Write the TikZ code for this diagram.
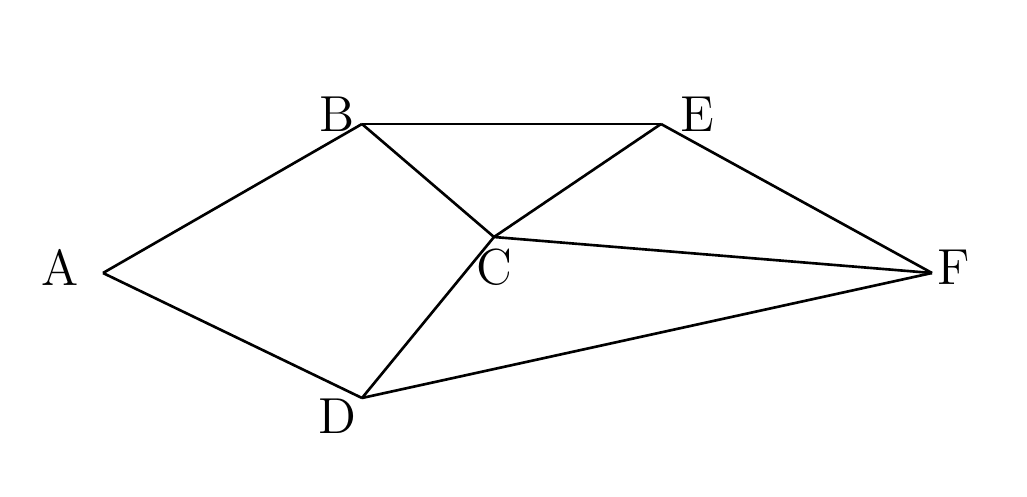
\documentclass[tikz,border=0pt]{standalone}
\begin{document}
\begin{tikzpicture}[every node/.style={font=\Large},
  edge/.style={line width=0.75pt},
  lbl/.style={inner sep=0pt}]
\useasboundingbox (0,0) rectangle (10.27,4.96);
\coordinate (A) at (1.03,2.23);
\coordinate (B) at (3.62,3.72);
\coordinate (E) at (6.61,3.72);
\coordinate (C) at (4.94,2.59);
\coordinate (F) at (9.32,2.23);
\coordinate (D) at (3.62,0.98);
\node[lbl] (lA) at (0.60,2.29) {A};
\node[lbl] (lB) at (3.37,3.82) {B};
\node[lbl] (lE) at (6.97,3.82) {E};
\node[lbl] (lC) at (4.94,2.29) {C};
\node[lbl] (lF) at (9.54,2.29) {F};
\node[lbl] (lD) at (3.37,0.80) {D};
\draw[edge] (A) -- (B);
\draw[edge] (A) -- (D);
\draw[edge] (B) -- (E);
\draw[edge] (B) -- (C);
\draw[edge] (E) -- (C);
\draw[edge] (E) -- (F);
\draw[edge] (C) -- (F);
\draw[edge] (C) -- (D);
\draw[edge] (D) -- (F);
\end{tikzpicture}
\end{document}
